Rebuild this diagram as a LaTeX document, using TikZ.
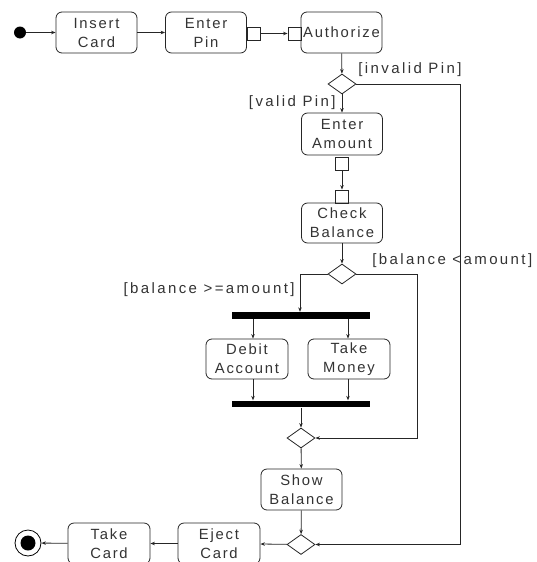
\documentclass[tikz,border=0pt]{standalone}
\usepackage{fontspec}
\setmainfont{Liberation Sans}[LetterSpace=12]
\usetikzlibrary{shapes.geometric,arrows.meta}
\begin{document}
\begin{tikzpicture}[x=1pt,y=-1pt, line width=0.8pt,
  act/.style={draw=black!85, rounded corners=6pt, minimum width=81pt, minimum height=41pt, align=center, inner sep=1pt, font=\fontsize{14.8}{19}\selectfont, text=black!80},
  pinbox/.style={draw=black!85, minimum size=13pt, inner sep=0pt},
  dec/.style={draw=black!85, diamond, minimum width=28pt, minimum height=20pt, inner sep=0pt},
  bar/.style={fill=black, draw=none, minimum width=138pt, minimum height=6.5pt, inner sep=0pt},
  arr/.style={draw=black!85, -{Stealth[length=4.5pt,width=3.5pt]}},
  guard/.style={font=\fontsize{15}{16}\selectfont\addfontfeature{LetterSpace=16}, inner sep=0pt, text=black!80}]
\clip (0,0) rectangle (537,562);
\useasboundingbox (0,0) rectangle (537,562);
% nodes
\node[circle, fill=black, minimum size=12pt, inner sep=0pt] (start) at (20,32.5) {};
\node[act] (insert) at (96.5,32.5) {Insert\\Card};
\node[act] (enterpin) at (206,32.5) {Enter\\Pin};
\node[pinbox] (pinA) at (253.5,33.5) {};
\node[pinbox] (pinB) at (294.5,33.5) {};
\node[act] (auth) at (341.5,32.5) {Authorize};
\node[dec] (d1) at (342,84) {};
\node[act, minimum height=42pt] (amount) at (342,134) {Enter\\Amount};
\node[pinbox] (pinC) at (342,163.5) {};
\node[pinbox] (pinD) at (342,196.5) {};
\node[act, minimum height=40pt] (check) at (342,223) {Check\\Balance};
\node[dec] (d2) at (342,274) {};
\node[bar] (fork) at (301,315.5) {};
\node[act, minimum width=82pt, minimum height=40pt] (debit) at (247,359) {Debit\\Account};
\node[act, minimum width=82pt, minimum height=40pt] (take) at (349,359) {Take\\Money};
\node[bar] (join) at (301,404) {};
\node[dec] (d3) at (301,438) {};
\node[act] (show) at (301.5,489.5) {Show\\Balance};
\node[dec] (d4) at (301,544.5) {};
\node[act, minimum width=82pt] (eject) at (219,543.5) {Eject\\Card};
\node[act, minimum width=82pt] (takecard) at (109,543.5) {Take\\Card};
\node[circle, draw, minimum size=26pt, inner sep=0pt] (end) at (28,543) {};
\node[circle, fill=black, minimum size=15pt, inner sep=0pt] (endin) at (end) {};
% guards
\node[guard, anchor=west] (g1) at (358,70) {[invalid Pin]};
\node[guard, anchor=east] (g2) at (336,103) {[valid Pin]};
\node[guard, anchor=west] (g3) at (372,261) {[balance <amount]};
\node[guard, anchor=east] (g4) at (295,290) {[balance >=amount]};
% corner coordinates
\coordinate (r1) at (460,84);
\coordinate (r2) at (460,544.5);
\coordinate (l2) at (300,274);
\coordinate (r3) at (417,274);
\coordinate (r4) at (417,438);
% connectors
\draw[arr] (start) -- (insert);
\draw[arr] (insert) -- (enterpin);
\draw[arr] (pinA) -- (pinB);
\draw[arr] (auth) -- (d1);
\draw[arr] (d1) -- (amount);
\draw[arr] (d1.east) -- (r1) -- (r2) -- (d4.east);
\draw[arr] (pinC) -- (pinD);
\draw[arr] (check) -- (d2);
\draw[arr] (d2.west) -- (l2) -- (l2 |- fork.north);
\draw[arr] (d2.east) -- (r3) -- (r4) -- (d3.east);
\draw[arr] ([xshift=6pt]debit.north |- fork.south) -- ([xshift=6pt]debit.north);
\draw[arr] ([xshift=-1pt]take.north |- fork.south) -- ([xshift=-1pt]take.north);
\draw[arr] ([xshift=6pt]debit.south) -- ([xshift=6pt]debit.south |- join.north);
\draw[arr] ([xshift=-1pt]take.south) -- ([xshift=-1pt]take.south |- join.north);
\draw[arr] (join) -- (d3);
\draw[arr] (d3) -- (show);
\draw[arr] (show) -- (d4);
\draw[arr] (d4) -- (eject);
\draw[arr] (eject) -- (takecard);
\draw[arr] (takecard) -- (end);
\end{tikzpicture}
\end{document}
